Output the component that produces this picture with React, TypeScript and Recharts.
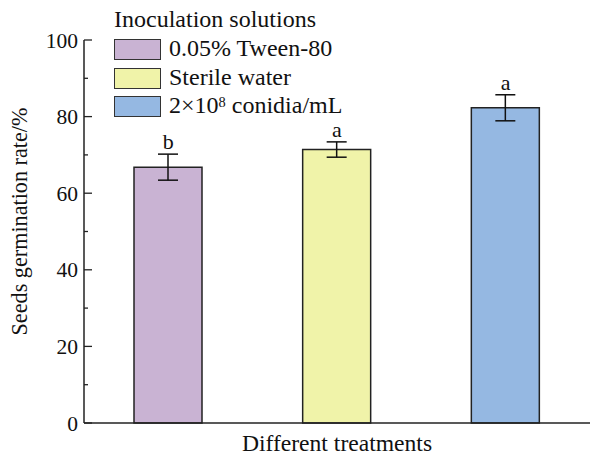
import React from 'react';
import {
  ComposedChart,
  Bar,
  Cell,
  ErrorBar,
  Line,
  LabelList,
  XAxis,
  YAxis,
  Legend,
  Label,
} from 'recharts';

const FONT = '"Liberation Serif", "Times New Roman", serif';

const categories = ['0.05% Tween-80', 'Sterile water', '2×10^8 conidia/mL'];
const values = [66.8, 71.4, 82.3];
const errors = [3.4, 2.0, 3.4];
const letters = ['b', 'a', 'a'];
const colors = ['#C9B3D3', '#F0F3A9', '#95B8E2'];
const yTicks = [0, 10, 20, 30, 40, 50, 60, 70, 80, 90, 100];
const legendTitle = 'Inoculation solutions';
const xTitle = 'Different treatments';
const yTitle = 'Seeds germination rate/%';

const data = categories.map((c, i) => ({
  name: c,
  value: values[i],
  err: errors[i],
  top: values[i] + errors[i],
  letter: letters[i],
}));

const renderName = (s: string) => {
  const m = s.split('^');
  if (m.length === 1) return s;
  const rest = m[1];
  const sup = rest.charAt(0);
  return (
    <>
      {m[0]}
      <sup style={{ fontSize: '0.6em', verticalAlign: '0.45em', lineHeight: 0 }}>{sup}</sup>
      {rest.slice(1)}
    </>
  );
};

const LegendContent = () => (
  <div style={{ fontFamily: FONT, fontSize: 24, color: '#111', whiteSpace: 'nowrap' }}>
    <div style={{ height: 29, lineHeight: '28px' }}>{legendTitle}</div>
    {categories.map((c, i) => (
      <div key={c} style={{ height: 28.5, lineHeight: '28px', display: 'flex', alignItems: 'flex-start' }}>
        <span
          style={{
            display: 'inline-block',
            flex: 'none',
            width: 45,
            height: 19,
            marginTop: 5,
            background: colors[i],
            border: '1.5px solid #333',
            marginRight: 8,
          }}
        />
        <span>{renderName(c)}</span>
      </div>
    ))}
  </div>
);

const YTick = (props: any) => {
  const { x, y, payload } = props;
  const v = payload.value as number;
  const major = v % 20 === 0;
  const ax = x + 6;
  return (
    <g>
      <line x1={ax} x2={ax + (major ? 8 : 4)} y1={y} y2={y} stroke="#222" strokeWidth={1.3} />
      {major && (
        <text x={x} y={y} dy="0.35em" textAnchor="end" fontFamily={FONT} fontSize={21.5} fill="#111">
          {v}
        </text>
      )}
    </g>
  );
};

const LetterLabel = (props: any) => {
  const { x, y, value } = props;
  return (
    <text x={x} y={y - 5} textAnchor="middle" fontFamily={FONT} fontSize={22} fill="#111">
      {value}
    </text>
  );
};

export default function App() {
  return (
    <div style={{ position: 'absolute', left: 0, top: 0, background: '#fff' }}>
      <ComposedChart
        width={590}
        height={455}
        data={data}
        margin={{ top: 40, right: 0, bottom: 0, left: 0 }}
      >
        <XAxis
          dataKey="name"
          height={32}
          tick={false}
          tickLine={false}
          axisLine={{ stroke: '#222', strokeWidth: 1.5 }}
        >
          <Label
            content={(p: any) => {
              const vb = p.viewBox;
              return (
                <text
                  x={vb.x + vb.width / 2}
                  y={vb.y + 28}
                  textAnchor="middle"
                  fontFamily={FONT}
                  fontSize={23.6}
                  fill="#111"
                >
                  {xTitle}
                </text>
              );
            }}
          />
        </XAxis>
        <YAxis
          width={84}
          domain={[0, 100]}
          ticks={yTicks}
          interval={0}
          tickSize={0}
          tickMargin={6}
          tickLine={false}
          tick={<YTick />}
          axisLine={{ stroke: '#222', strokeWidth: 1.5 }}
        >
          <Label
            content={(p: any) => {
              const vb = p.viewBox;
              const cx = 27;
              const cy = vb.y + vb.height / 2 - 10;
              return (
                <text
                  x={cx}
                  y={cy}
                  transform={`rotate(-90 ${cx} ${cy})`}
                  textAnchor="middle"
                  fontFamily={FONT}
                  fontSize={22.2}
                  fill="#111"
                >
                  {yTitle}
                </text>
              );
            }}
          />
        </YAxis>
        <Legend
          layout="vertical"
          align="center"
          verticalAlign="middle"
          content={<LegendContent />}
          wrapperStyle={{ left: 114, top: 5, width: 'auto', height: 'auto' }}
        />
        <Bar dataKey="value" barSize={68} stroke="#222" strokeWidth={1.5} isAnimationActive={false}>
          {data.map((d, i) => (
            <Cell key={d.name} fill={colors[i]} />
          ))}
          <ErrorBar dataKey="err" width={10} stroke="#111" strokeWidth={1.5} />
        </Bar>
        <Line
          dataKey="top"
          stroke="none"
          dot={false}
          activeDot={false}
          legendType="none"
          isAnimationActive={false}
        >
          <LabelList dataKey="letter" content={<LetterLabel />} />
        </Line>
      </ComposedChart>
    </div>
  );
}
